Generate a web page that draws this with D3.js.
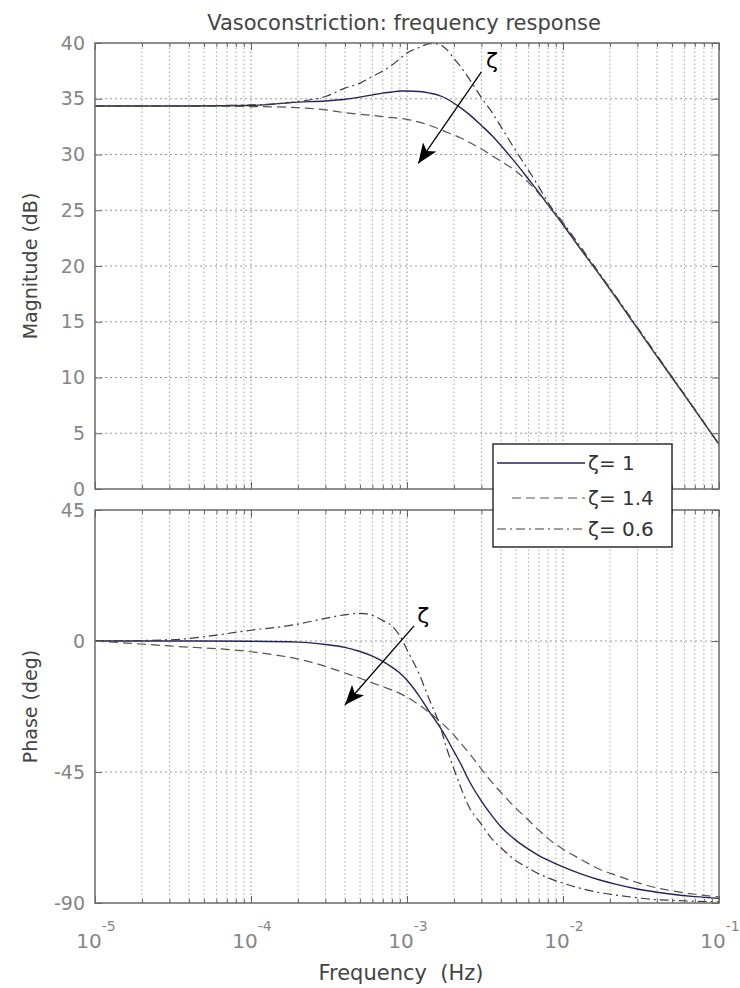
<!DOCTYPE html>
<html lang="en">
<head>
<meta charset="UTF-8">
<title>Vasoconstriction: frequency response</title>
<script src="https://d3js.org/d3.v7.min.js"></script>
<style>
  body { margin: 0; background: #fff; }
  svg { display: block; font-family: "DejaVu Sans", sans-serif; }
</style>
</head>
<body>
<svg width="740" height="988"></svg>
<script>
// values (Hz, dB, deg)
const freq = [1e-5, 3e-5, 1e-4, 2e-4, 3e-4, 4e-4, 5e-4, 6e-4, 7e-4, 8e-4, 9e-4, 1e-3,
              1.2e-3, 1.4e-3, 1.6e-3, 1.8e-3, 2e-3, 2.2e-3, 2.5e-3, 3e-3, 3.5e-3, 4e-3,
              5e-3, 6e-3, 7e-3, 8e-3, 1e-2, 1.3e-2, 1.7e-2, 2.2e-2, 3e-2, 4e-2, 5e-2, 7e-2, 1e-1];

const magZeta1  = [34.35, 34.35, 34.4, 34.7, 34.8, 34.95, 35.15, 35.35, 35.5, 35.6, 35.7, 35.7,
                   35.65, 35.5, 35.3, 35.0, 34.6, 34.2, 33.6, 32.6, 31.7, 30.8,
                   29.2, 27.8, 26.6, 25.5, 23.7, 21.5, 19.3, 17.1, 14.4, 11.9, 10.0, 7.1, 4.0];
const magZeta14 = [34.35, 34.35, 34.3, 34.2, 34.0, 33.75, 33.6, 33.5, 33.4, 33.3, 33.25, 33.15,
                   32.9, 32.6, 32.3, 32.0, 31.75, 31.5, 31.1, 30.5, 29.9, 29.4,
                   28.5, 27.5, 26.5, 25.5, 23.8, 21.5, 19.3, 17.1, 14.4, 11.9, 10.0, 7.1, 4.0];
const magZeta06 = [34.35, 34.35, 34.45, 34.75, 35.2, 35.95, 36.4, 37.0, 37.5, 38.0, 38.6, 39.1,
                   39.6, 39.95, 39.9, 39.4, 38.6, 37.9, 36.8, 35.1, 33.8, 32.5,
                   30.3, 28.6, 27.1, 25.7, 23.9, 21.7, 19.4, 17.2, 14.5, 12.0, 10.05, 7.15, 4.0];

const phZeta1  = [0, 0, -0.1, -0.4, -1.2, -2.2, -3.6, -5.2, -7.0, -9.0, -11.0, -13.5,
                  -19, -24.5, -29, -33.5, -38, -42, -48, -55, -60, -63.8,
                  -68.5, -71.5, -73.7, -75.3, -77.6, -80, -82, -83.6, -85.2, -86.3, -87, -87.8, -88.4];
const phZeta14 = [0, -1.7, -3.7, -6.2, -8.7, -11, -12.8, -14.4, -15.7, -16.8, -18, -19.3,
                  -22, -24.7, -27.3, -29.8, -32.3, -35, -38.5, -44, -48.5, -52,
                  -57.5, -61.5, -65, -67.8, -71.5, -75, -78.3, -80.5, -83, -84.8, -85.8, -87, -87.9];
const phZeta06 = [0, 0.4, 3.7, 5.8, 7.8, 9.0, 9.5, 8.8, 7.0, 5.2, 1.7, -3,
                  -11.5, -20.5, -28, -37, -44, -50, -57, -63, -68, -71,
                  -75.5, -78, -80, -81.3, -83.2, -85, -86.4, -87.3, -88.2, -88.9, -89.1, -89.4, -89.6];

const seriesNames = ["ζ= 1", "ζ= 1.4", "ζ= 0.6"];
const magTicks = [0, 5, 10, 15, 20, 25, 30, 35, 40];
const phaseTicks = [-90, -45, 0, 45];
const decades = [-5, -4, -3, -2, -1];

// line looks, same order as seriesNames
const looks = [
  { color: "#23235c", dash: null, width: 1.4 },
  { color: "#55554f", dash: "9,5", width: 1.2 },
  { color: "#4e3434", dash: "9,4,2,4", width: 1.2 }
];

const svg = d3.select("svg");
const left = 95, right = 719;

const x = d3.scaleLog().domain([1e-5, 1e-1]).range([left, right]);
const yMag = d3.scaleLinear().domain([0, 40]).range([489, 43]);
const yPh = d3.scaleLinear().domain([-90, 45]).range([903, 510]);

const majorX = decades.map(k => Math.pow(10, k));
const minorX = [];
decades.slice(0, -1).forEach(k => {
  for (let m = 2; m <= 9; m++) minorX.push(m * Math.pow(10, k));
});

function panel(id, y, yTicks, series) {
  const g = svg.append("g");
  const [y0, y1] = y.range();

  // grid
  g.selectAll(".vgrid")
    .data(minorX.concat(majorX.slice(1, -1)))
    .enter().append("line")
    .attr("x1", d => x(d)).attr("x2", d => x(d))
    .attr("y1", y0).attr("y2", y1)
    .attr("stroke", d => majorX.includes(d) ? "#8a8a8a" : "#a8a8a8")
    .attr("stroke-width", 1)
    .attr("stroke-dasharray", "1.5,2.5");

  g.selectAll(".hgrid")
    .data(yTicks.slice(1, -1))
    .enter().append("line")
    .attr("x1", left).attr("x2", right)
    .attr("y1", d => y(d)).attr("y2", d => y(d))
    .attr("stroke", "#999")
    .attr("stroke-dasharray", "2,3");

  // curves
  svg.append("clipPath").attr("id", id)
    .append("rect").attr("x", left).attr("y", y1)
    .attr("width", right - left).attr("height", y0 - y1);

  const line = d3.line()
    .x(d => x(d[0]))
    .y(d => y(d[1]))
    .curve(d3.curveMonotoneX);

  series.forEach((vals, i) => {
    g.append("path")
      .datum(freq.map((f, j) => [f, vals[j]]))
      .attr("clip-path", `url(#${id})`)
      .attr("fill", "none")
      .attr("stroke", looks[i].color)
      .attr("stroke-width", looks[i].width)
      .attr("stroke-dasharray", looks[i].dash);
  });
  g.selectAll("path").attr("d", line);

  // ticks on all four sides, pointing in
  const yl = g.append("g").attr("transform", `translate(${left},0)`)
    .call(d3.axisLeft(y).tickValues(yTicks).tickSize(-7).tickPadding(10).tickFormat(d => String(d)));
  yl.selectAll("text").attr("fill", "#858585").style("font-size", "19px").style("font-family", "DejaVu Sans");

  g.append("g").attr("transform", `translate(${right},0)`)
    .call(d3.axisRight(y).tickValues(yTicks).tickSize(-7).tickFormat(""));

  [[d3.axisBottom, y0], [d3.axisTop, y1]].forEach(([ax, yy]) => {
    g.append("g").attr("transform", `translate(0,${yy})`)
      .call(ax(x).tickValues(majorX).tickSize(-7).tickFormat(""));
    g.append("g").attr("transform", `translate(0,${yy})`)
      .call(ax(x).tickValues(minorX).tickSize(-4).tickFormat(""));
  });

  g.selectAll(".domain").remove();
  g.selectAll(".tick line").attr("stroke", "#666");

  g.append("rect")
    .attr("x", left).attr("y", y1)
    .attr("width", right - left).attr("height", y0 - y1)
    .attr("fill", "none").attr("stroke", "#6a6a6a").attr("stroke-width", 1.5);
  return g;
}

panel("clipMag", yMag, magTicks, [magZeta1, magZeta14, magZeta06]);
panel("clipPh", yPh, phaseTicks, [phZeta1, phZeta14, phZeta06]);

// x tick labels as 10^k
const xl = svg.append("g");
decades.forEach(k => {
  const t = xl.append("text")
    .attr("x", x(Math.pow(10, k)) + 1)
    .attr("y", 948)
    .attr("text-anchor", "middle")
    .attr("fill", "#858585")
    .style("font-size", "20px");
  t.append("tspan").text("10");
  t.append("tspan").attr("dy", -17).style("font-size", "14px").text(String(k));
});

// titles
svg.append("text")
  .attr("x", 404).attr("y", 30)
  .attr("text-anchor", "middle")
  .attr("fill", "#444")
  .style("font-size", "21px")
  .text("Vasoconstriction: frequency response");

svg.append("text")
  .attr("x", 401).attr("y", 980)
  .attr("text-anchor", "middle")
  .attr("fill", "#444")
  .style("font-size", "21px")
  .style("white-space", "pre")
  .text("Frequency  (Hz)");

[["Magnitude (dB)", yMag], ["Phase (deg)", yPh]].forEach(([label, y]) => {
  const cy = (y.range()[0] + y.range()[1]) / 2;
  svg.append("text")
    .attr("transform", `translate(37,${cy}) rotate(-90)`)
    .attr("text-anchor", "middle")
    .attr("fill", "#444")
    .style("font-size", "19px")
    .text(label);
});

// zeta arrows
svg.append("defs").append("marker")
  .attr("id", "head")
  .attr("markerUnits", "userSpaceOnUse")
  .attr("markerWidth", 22).attr("markerHeight", 16)
  .attr("refX", 20).attr("refY", 8)
  .attr("orient", "auto")
  .append("path").attr("d", "M0,0 L20,8 L0,16 L5,8 Z").attr("fill", "#000");

const arrows = [
  { y: yMag, from: [3.0e-3, 37.4], to: [1.18e-3, 29.2], label: [3.5e-3, 38.4] },
  { y: yPh, from: [1.11e-3, 5.2], to: [4.0e-4, -22], label: [1.27e-3, 8.9] }
];
arrows.forEach(a => {
  svg.append("line")
    .attr("x1", x(a.from[0])).attr("y1", a.y(a.from[1]))
    .attr("x2", x(a.to[0])).attr("y2", a.y(a.to[1]))
    .attr("stroke", "#000").attr("stroke-width", 1.3)
    .attr("marker-end", "url(#head)");
  svg.append("text")
    .attr("x", x(a.label[0])).attr("y", a.y(a.label[1]))
    .attr("text-anchor", "middle")
    .attr("dominant-baseline", "central")
    .style("font-size", "22px")
    .text("ζ");
});

// legend
const lg = svg.append("g");
lg.append("rect")
  .attr("x", 493).attr("y", 444).attr("width", 179).attr("height", 103)
  .attr("fill", "#fff").attr("stroke", "#222").attr("stroke-width", 1.4);
const rowY = [463, 498, 529];
seriesNames.forEach((name, i) => {
  lg.append("line")
    .attr("x1", i === 1 ? 512 : 497).attr("x2", 585)
    .attr("y1", rowY[i]).attr("y2", rowY[i])
    .attr("stroke", looks[i].color)
    .attr("stroke-width", looks[i].width)
    .attr("stroke-dasharray", looks[i].dash);
  lg.append("text")
    .attr("x", 588).attr("y", rowY[i])
    .attr("dominant-baseline", "central")
    .attr("fill", "#333")
    .style("font-size", "20px")
    .text(name);
});
</script>
</body>
</html>
